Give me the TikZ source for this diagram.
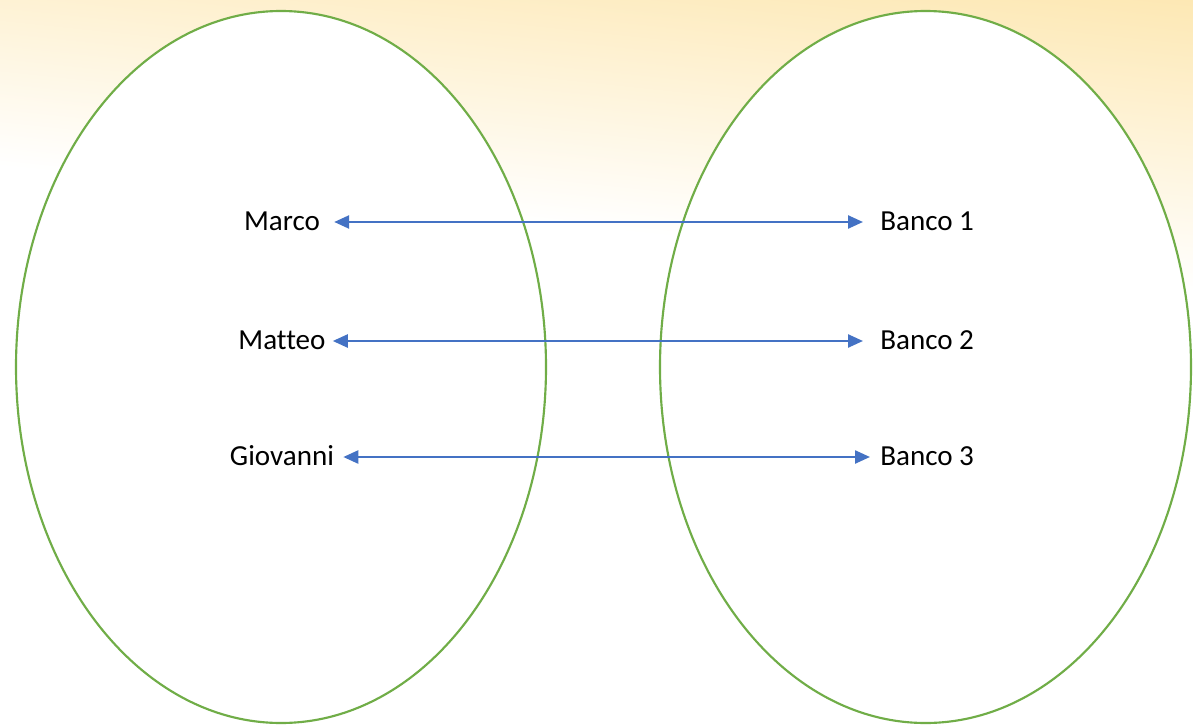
\documentclass[tikz,border=0pt]{standalone}
\usepackage{fontspec}
\setmainfont{Carlito}[Ligatures=NoCommon]
\usetikzlibrary{arrows.meta}
\definecolor{ellgreen}{RGB}{112,173,71}
\definecolor{arrblue}{RGB}{68,114,196}
\definecolor{bgyellow}{RGB}{253,232,180}
\begin{document}
\begin{tikzpicture}[x=0.75pt,y=-0.75pt,
  setoval/.style={draw=ellgreen, line width=1.6pt, fill=white},
  txt/.style={font=\fontsize{21.8}{26}\selectfont, inner sep=0pt, text=black},
  link/.style={draw=arrblue, line width=1.8pt,
    {Triangle[length=11.25pt,width=9.75pt]}-{Triangle[length=11.25pt,width=9.75pt]}}]
\useasboundingbox (0,0) rectangle (1193,725);
\fill[white] (0,0) rectangle (1193,725);
\begin{scope}
  \clip (0,0) rectangle (1193,725);
  \begin{scope}[transform canvas={rotate around={-6:(1193,0)}}]
    \shade[top color=bgyellow, bottom color=white] (-400,0) rectangle (1400,290);
  \end{scope}
\end{scope}
% sets
\draw[setoval] (281,367) ellipse [x radius=265, y radius=356];
\draw[setoval] (925.5,367) ellipse [x radius=265.5, y radius=356];
% labels
\node[txt, anchor=base] (marco) at (282,230) {Marco};
\node[txt, anchor=base] (matteo) at (282,349) {Matteo};
\node[txt, anchor=base] (giovanni) at (282,465) {Giovanni};
\node[txt, anchor=base west] (banco1) at (880,230) {Banco 1};
\node[txt, anchor=base west] (banco2) at (880,349) {Banco 2};
\node[txt, anchor=base west] (banco3) at (880,465) {Banco 3};
% links
\draw[link] ([xshift=10.5pt,yshift=6pt]marco.base east) -- ([xshift=-12.75pt,yshift=6pt]banco1.base west);
\draw[link] ([xshift=5.25pt,yshift=6pt]matteo.base east) -- ([xshift=-12.75pt,yshift=6pt]banco2.base west);
\draw[link] ([xshift=6.75pt,yshift=6pt]giovanni.base east) -- ([xshift=-7.5pt,yshift=6pt]banco3.base west);
\end{tikzpicture}
\end{document}
